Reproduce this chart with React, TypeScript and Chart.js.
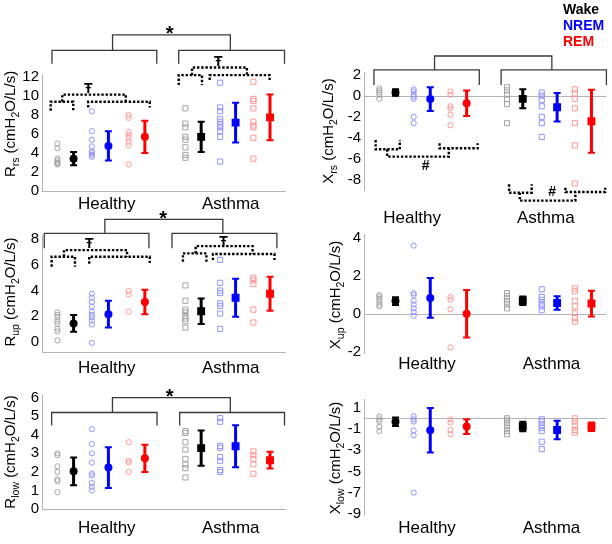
import React, { useEffect, useRef } from 'react';
import { Chart, registerables } from 'chart.js';

Chart.register(...registerables);

const FONT = '"Liberation Sans", Arial, Helvetica, sans-serif';
Chart.defaults.font.family = FONT;

const GROUPS = ['Healthy', 'Asthma'];
const STATES = ['Wake', 'NREM', 'REM'];

// column positions on a 0-30 x axis; order: Healthy Wake, NREM, REM, Asthma Wake, NREM, REM
const SUBJECT_X = [1.9, 6.15, 10.7, 17.7, 22.0, 26.1];
const MEAN_X = [3.9, 8.2, 12.7, 19.65, 23.9, 28.15];

// ---- Rrs ----
const RRS_HEALTHY = [[5.0, 4.5, 3.4, 3.2, 3.0, 2.9, 2.8], [8.4, 6.3, 5.4, 4.7, 4.2, 4.0, 3.8, 3.6], [8.0, 7.7, 6.2, 5.9, 5.6, 5.2, 4.8, 2.8]];
const RRS_ASTHMA = [[8.7, 7.1, 6.7, 5.7, 5.4, 4.6, 3.8, 3.5], [11.4, 8.8, 8.4, 7.6, 7.3, 7.0, 6.7, 6.3, 5.7, 3.1], [11.5, 9.7, 9.5, 8.7, 7.3, 6.9, 6.7, 5.6, 3.4]];
const RRS_MEAN = [3.4, 4.75, 5.7, 5.7, 7.2, 7.75];
const RRS_SD = [0.7, 1.55, 1.7, 1.6, 2.1, 2.4];
const RRS_TICKS = [0, 2, 4, 6, 8, 10, 12];

// ---- Xrs ----
const XRS_HEALTHY = [[0.7, 0.5, 0.3, 0.1, -0.3], [0.6, 0.4, 0.1, -0.1, -0.3, -2.0, -2.6], [0.4, 0.1, -1.0, -1.2, -1.8, -2.8]];
const XRS_ASTHMA = [[0.8, 0.5, 0.1, -0.3, -0.8, -2.6], [0.3, 0.0, -0.4, -1.0, -2.0, -2.6, -3.9], [0.6, 0.2, -0.3, -1.2, -2.6, -4.7, -8.3]];
const XRS_MEAN = [0.3, -0.32, -0.72, -0.3, -1.1, -2.42];
const XRS_SD = [0.3, 1.12, 1.2, 0.9, 1.35, 2.97];
const XRS_TICKS = [2, 0, -2, -4, -6, -8];

// ---- Rup ----
const RUP_HEALTHY = [[2.3, 2.1, 1.9, 1.6, 1.4, 1.0, 0.8, 0.1], [3.75, 3.45, 3.1, 2.75, 2.35, 2.1, 1.9, 1.65, 1.35, -0.1], [3.95, 3.7, 2.35]];
const RUP_ASTHMA = [[4.4, 3.2, 2.5, 2.3, 2.0, 1.8, 1.6, 1.1], [6.4, 4.6, 4.0, 3.8, 3.0, 2.8, 2.2, 1.0], [5.0, 4.8, 4.5, 2.5, 1.5]];
const RUP_MEAN = [1.43, 2.15, 3.1, 2.38, 3.43, 3.75];
const RUP_SD = [0.65, 1.05, 0.95, 1.0, 1.48, 1.33];
const RUP_TICKS = [0, 2, 4, 6, 8];

// ---- Xup ----
const XUP_HEALTHY = [[1.0, 0.9, 0.8, 0.65, 0.5, 0.4], [3.6, 1.1, 1.0, 0.7, 0.5, 0.3, 0.1, -0.1], [0.9, 0.75, 0.25, -1.75]];
const XUP_ASTHMA = [[1.1, 0.95, 0.8, 0.65, 0.5, 0.3], [1.3, 0.9, 0.75, 0.55, 0.4, 0.2], [1.35, 1.2, 0.7, 0.4, 0.05, -0.2, -0.4]];
const XUP_MEAN = [0.68, 0.85, 0.02, 0.7, 0.58, 0.55];
const XUP_SD = [0.2, 1.05, 1.25, 0.22, 0.35, 0.68];
const XUP_TICKS = [4, 2, 0, -2];

// ---- Rlow ----
const RLOW_HEALTHY = [[3.0, 2.9, 2.3, 2.0, 1.6, 1.5, 0.9], [4.3, 3.5, 3.0, 2.5, 1.9, 1.8, 1.4, 1.2, 1.0], [3.6, 2.6, 2.5, 2.0]];
const RLOW_ASTHMA = [[4.2, 4.1, 3.6, 3.2, 2.7, 2.4, 2.2, 1.7], [4.9, 4.7, 3.4, 3.3, 2.8, 2.6, 2.1, 2.0], [3.1, 2.9, 2.7, 2.4, 1.9]];
const RLOW_MEAN = [2.03, 2.23, 2.73, 3.28, 3.38, 2.63];
const RLOW_SD = [0.75, 1.1, 0.73, 0.95, 1.13, 0.45];
const RLOW_TICKS = [0, 1, 2, 3, 4, 5, 6];

// ---- Xlow ----
const XLOW_HEALTHY = [[0.15, -0.1, -0.3, -0.8, -1.2], [0.2, -0.1, -0.3, -1.15, -1.6, -7.0], [-0.1, -0.4, -1.1, -1.5]];
const XLOW_ASTHMA = [[0.0, -0.2, -0.4, -0.6, -0.9, -1.2, -1.5], [-0.1, -0.3, -0.6, -0.9, -1.2, -2.2, -2.9], [0.0, -0.3, -0.7, -1.1, -1.35]];
const XLOW_MEAN = [-0.32, -1.12, -0.78, -0.77, -1.1, -0.79];
const XLOW_SD = [0.4, 2.1, 0.7, 0.44, 0.88, 0.4];
const XLOW_TICKS = [1, -1, -3, -5, -7, -9];

const MEAN_COLORS = ['#000000', '#0000ff', '#ff0000'];
const LIGHT_COLORS = ['#a3a3a3', '#9393ff', '#ff9797'];
const AXIS_COLOR = '#b4b4b4';
const BRACKET_COLOR = '#3a3a3a';

type Bracket = [number, number, number, number, number]; // x1, x2, yTop, yEnd1, yEnd2
interface Mark { t: string; x: number; y: number; size: number }
interface PanelCfg {
  sym: string; sub: string;
  healthy: number[][]; asthma: number[][]; mean: number[]; sd: number[]; ticks: number[];
  min: number; max: number;
  area: [number, number, number, number];
  labelX: number[]; labelPad: number;
  titleAt: [number, number];
  bottomAxis: boolean; zeroLine: boolean;
  solid: Bracket[]; dotted: Bracket[]; marks: Mark[];
  legend?: boolean;
}

const PANELS: PanelCfg[] = [
  {
    sym: 'R', sub: 'rs', healthy: RRS_HEALTHY, asthma: RRS_ASTHMA, mean: RRS_MEAN, sd: RRS_SD, ticks: RRS_TICKS,
    min: 0, max: 12.3, area: [42, 74.2, 285, 191], labelX: [8.0, 23.3], labelPad: 3,
    titleAt: [10, 124], bottomAxis: true, zeroLine: false,
    solid: [[1.23, 14.17, 14.8, 13.4, 13.4], [16.88, 29.94, 14.8, 13.4, 13.4], [8.71, 23.25, 16.45, 14.8, 14.8]],
    dotted: [
      [1.07, 3.86, 9.4, 8.45, 8.45], [2.5, 10.35, 10.15, 9.4, 9.4], [5.7, 13.3, 9.4, 8.8, 8.8],
      [16.88, 19.75, 12.2, 11.15, 11.15], [18.52, 25.3, 13.0, 12.2, 12.2], [20.7, 28.1, 12.2, 11.7, 11.7],
    ],
    marks: [{ t: '*', x: 15.77, y: 17.1, size: 20 }, { t: 'Ŧ', x: 5.7, y: 10.85, size: 14 }, { t: 'Ŧ', x: 21.75, y: 13.65, size: 14 }],
  },
  {
    sym: 'X', sub: 'rs', healthy: XRS_HEALTHY, asthma: XRS_ASTHMA, mean: XRS_MEAN, sd: XRS_SD, ticks: XRS_TICKS,
    min: -9, max: 2.2, area: [364, 72.4, 608, 190.9], labelX: [5.96, 22.5], labelPad: 17,
    titleAt: [328, 131], bottomAxis: false, zeroLine: true, legend: true,
    solid: [[1.23, 14.27, 2.43, 1.01, 1.01], [16.97, 30, 2.43, 1.01, 1.01], [8.73, 23.25, 3.75, 2.43, 2.43]],
    dotted: [
      [1.44, 4.43, -5.07, -4.19, -4.19], [2.87, 10.5, -5.76, -5.07, -4.97], [9.35, 14.06, -4.97, -4.5, -4.5],
      [17.96, 20.75, -9.17, -8.38, -8.38], [19.27, 26.16, -9.92, -9.17, -9.1], [24.93, 29.85, -9.1, -8.7, -8.7],
    ],
    marks: [{ t: '#', x: 7.63, y: -6.55, size: 14 }, { t: '#', x: 23.28, y: -9.0, size: 14 }],
  },
  {
    sym: 'R', sub: 'up', healthy: RUP_HEALTHY, asthma: RUP_ASTHMA, mean: RUP_MEAN, sd: RUP_SD, ticks: RUP_TICKS,
    min: -0.83, max: 8.3, area: [42, 235.5, 285, 352.3], labelX: [8.0, 23.3], labelPad: 6,
    titleAt: [10, 292], bottomAxis: true, zeroLine: false,
    solid: [[0.28, 13.2, 8.47, 7.3, 7.3], [16.05, 29.0, 8.47, 7.3, 7.3], [7.76, 22.33, 9.56, 8.47, 8.47]],
    dotted: [
      [1.19, 4.07, 6.64, 5.86, 5.86], [2.71, 10.5, 7.16, 6.64, 6.64], [5.83, 13.3, 6.64, 6.1, 6.1],
      [17.4, 20.3, 6.9, 6.25, 6.25], [18.97, 26.0, 7.47, 6.9, 6.85], [21.1, 28.7, 6.85, 6.38, 6.38],
    ],
    marks: [{ t: '*', x: 14.95, y: 10.0, size: 20 }, { t: 'Ŧ', x: 5.83, y: 7.73, size: 14 }, { t: 'Ŧ', x: 22.4, y: 7.9, size: 14 }],
  },
  {
    sym: 'X', sub: 'up', healthy: XUP_HEALTHY, asthma: XUP_ASTHMA, mean: XUP_MEAN, sd: XUP_SD, ticks: XUP_TICKS,
    min: -2.05, max: 4.2, area: [364, 234.2, 608, 353], labelX: [7.8, 23.2], labelPad: 1,
    titleAt: [335, 295], bottomAxis: false, zeroLine: true,
    solid: [], dotted: [], marks: [],
  },
  {
    sym: 'R', sub: 'low', healthy: RLOW_HEALTHY, asthma: RLOW_ASTHMA, mean: RLOW_MEAN, sd: RLOW_SD, ticks: RLOW_TICKS,
    min: 0, max: 6.1, area: [42, 395.8, 285, 511], labelX: [8.0, 23.3], labelPad: 9,
    titleAt: [10, 452], bottomAxis: true, zeroLine: false,
    solid: [[1.19, 14.2, 5.2, 4.5, 4.5], [17.0, 29.94, 5.2, 4.5, 4.5], [8.7, 23.25, 6.0, 5.2, 5.2]],
    dotted: [],
    marks: [{ t: '*', x: 15.77, y: 6.32, size: 20 }],
  },
  {
    sym: 'X', sub: 'low', healthy: XLOW_HEALTHY, asthma: XLOW_ASTHMA, mean: XLOW_MEAN, sd: XLOW_SD, ticks: XLOW_TICKS,
    min: -9.1, max: 1.8, area: [364, 399.2, 608, 515], labelX: [7.8, 23.2], labelPad: 3,
    titleAt: [335, 458], bottomAxis: false, zeroLine: true,
    solid: [], dotted: [], marks: [],
  },
];

const INK_CENTER: Record<string, number> = { '*': 0.58, 'Ŧ': 0.36, '#': 0.35 };

function makePlugin(cfg: PanelCfg) {
  return {
    id: 'panelDecor',
    beforeDatasetsDraw(chart: any) {
      const { ctx, chartArea, scales } = chart;
      const x = scales.x, y = scales.y;
      ctx.save();
      if (cfg.zeroLine) {
        const py = Math.round(y.getPixelForValue(0)) + 0.5;
        ctx.strokeStyle = AXIS_COLOR;
        ctx.lineWidth = 1;
        ctx.beginPath();
        ctx.moveTo(chartArea.left, py);
        ctx.lineTo(chartArea.right, py);
        ctx.stroke();
      }
      cfg.mean.forEach((m, i) => {
        const px = x.getPixelForValue(MEAN_X[i]);
        const top = y.getPixelForValue(m + cfg.sd[i]);
        const bot = y.getPixelForValue(m - cfg.sd[i]);
        ctx.strokeStyle = MEAN_COLORS[i % 3];
        ctx.lineWidth = 3;
        ctx.beginPath();
        ctx.moveTo(px, top);
        ctx.lineTo(px, bot);
        ctx.stroke();
        ctx.lineWidth = 2;
        ctx.beginPath();
        ctx.moveTo(px - 3.5, top); ctx.lineTo(px + 3.5, top);
        ctx.moveTo(px - 3.5, bot); ctx.lineTo(px + 3.5, bot);
        ctx.stroke();
      });
      ctx.restore();
    },
    afterDraw(chart: any) {
      const { ctx, scales } = chart;
      const x = scales.x, y = scales.y;
      const bracket = (b: Bracket) => {
        const px1 = x.getPixelForValue(b[0]);
        const px2 = x.getPixelForValue(b[1]);
        ctx.beginPath();
        ctx.moveTo(px1, y.getPixelForValue(b[3]));
        ctx.lineTo(px1, y.getPixelForValue(b[2]));
        ctx.lineTo(px2, y.getPixelForValue(b[2]));
        ctx.lineTo(px2, y.getPixelForValue(b[4]));
        ctx.stroke();
      };
      ctx.save();
      ctx.strokeStyle = BRACKET_COLOR;
      ctx.lineWidth = 1.3;
      ctx.setLineDash([]);
      cfg.solid.forEach(bracket);
      ctx.strokeStyle = '#000';
      ctx.lineWidth = 2.4;
      ctx.setLineDash([2.4, 1.8]);
      cfg.dotted.forEach(bracket);
      ctx.setLineDash([]);
      ctx.fillStyle = '#000';
      ctx.textAlign = 'center';
      ctx.textBaseline = 'alphabetic';
      cfg.marks.forEach((mk) => {
        ctx.font = `bold ${mk.size}px ${FONT}`;
        const px = x.getPixelForValue(mk.x);
        const py = y.getPixelForValue(mk.y) + INK_CENTER[mk.t] * mk.size;
        ctx.fillText(mk.t, px, py);
      });

      // y-axis title with subscripts
      const segs: [string, boolean][] = [[cfg.sym, false], [cfg.sub, true], [' (cmH', false], ['2', true], ['O/L/s)', false]];
      const mainSize = 15, subSize = 10.5;
      let total = 0;
      segs.forEach(([t, s]) => {
        ctx.font = `${s ? subSize : mainSize}px ${FONT}`;
        total += ctx.measureText(t).width;
      });
      ctx.translate(cfg.titleAt[0], cfg.titleAt[1]);
      ctx.rotate(-Math.PI / 2);
      ctx.textAlign = 'left';
      let cx = -total / 2;
      const base = 0.36 * mainSize;
      segs.forEach(([t, s]) => {
        ctx.font = `${s ? subSize : mainSize}px ${FONT}`;
        ctx.fillText(t, cx, s ? base + 3.5 : base);
        cx += ctx.measureText(t).width;
      });
      ctx.restore();

      if (cfg.legend) {
        ctx.save();
        ctx.font = `bold 14px ${FONT}`;
        ctx.textAlign = 'left';
        ctx.textBaseline = 'middle';
        const ys = [10, 26, 42];
        STATES.forEach((s, k) => {
          ctx.fillStyle = MEAN_COLORS[k];
          ctx.fillText(s, 563, ys[k]);
        });
        ctx.restore();
      }
    },
  };
}

function Panel({ cfg }: { cfg: PanelCfg }) {
  const ref = useRef<HTMLCanvasElement>(null);
  useEffect(() => {
    if (!ref.current) return;
    const [L, T, R, B] = cfg.area;
    const xAxisH = cfg.labelPad + 26;
    const datasets: any[] = [];
    STATES.forEach((s, k) => {
      datasets.push({
        label: s + ' mean',
        data: [{ x: MEAN_X[k], y: cfg.mean[k] }, { x: MEAN_X[k + 3], y: cfg.mean[k + 3] }],
        pointStyle: ['circle', 'rect'],
        pointRadius: [4, 5.6],
        backgroundColor: MEAN_COLORS[k],
        borderColor: MEAN_COLORS[k],
        borderWidth: 0,
        order: 0,
      });
    });
    STATES.forEach((s, k) => {
      const h = cfg.healthy[k].map((v) => ({ x: SUBJECT_X[k], y: v }));
      const a = cfg.asthma[k].map((v) => ({ x: SUBJECT_X[k + 3], y: v }));
      datasets.push({
        label: s,
        data: [...h, ...a],
        pointStyle: [...h.map(() => 'circle'), ...a.map(() => 'rect')],
        pointRadius: [...h.map(() => 2.6), ...a.map(() => 3.6)],
        backgroundColor: 'rgba(0,0,0,0)',
        borderColor: LIGHT_COLORS[k],
        borderWidth: 1,
        order: 1,
      });
    });
    const chart = new Chart(ref.current, {
      type: 'scatter',
      data: { datasets },
      options: {
        animation: false,
        responsive: false,
        events: [],
        layout: { padding: { left: L - 40, top: T, right: 612 - R, bottom: Math.max(0, 544 - B - xAxisH) } },
        plugins: { legend: { display: false }, tooltip: { enabled: false } },
        scales: {
          x: {
            type: 'linear', min: 0, max: 30,
            afterBuildTicks: (s: any) => { s.ticks = cfg.labelX.map((v) => ({ value: v })); },
            afterFit: (s: any) => { s.height = xAxisH; },
            ticks: {
              autoSkip: false, maxRotation: 0, padding: cfg.labelPad, color: '#000',
              font: { size: 17, family: FONT },
              callback: (_v: any, i: number) => GROUPS[i],
            },
            grid: { display: false, drawTicks: false },
            border: { display: cfg.bottomAxis, color: AXIS_COLOR, width: 1 },
          },
          y: {
            type: 'linear', min: cfg.min, max: cfg.max,
            afterBuildTicks: (s: any) => { s.ticks = cfg.ticks.map((v) => ({ value: v })); },
            afterFit: (s: any) => { s.width = 40; },
            ticks: {
              autoSkip: false, padding: 3, color: '#000', font: { size: 15, family: FONT },
              callback: (v: any) => String(v),
            },
            grid: { display: false, drawTicks: false },
            border: { display: true, color: AXIS_COLOR, width: 1 },
          },
        },
      } as any,
      plugins: [makePlugin(cfg) as any],
    });
    return () => chart.destroy();
  }, [cfg]);
  return (
    <canvas ref={ref} width={612} height={544}
      style={{ position: 'absolute', left: 0, top: 0, width: 612, height: 544 }} />
  );
}

export default function App() {
  return (
    <div style={{ position: 'absolute', left: 0, top: 0, width: 612, height: 544, background: '#fff', overflow: 'hidden' }}>
      {PANELS.map((p, i) => <Panel key={i} cfg={p} />)}
    </div>
  );
}
